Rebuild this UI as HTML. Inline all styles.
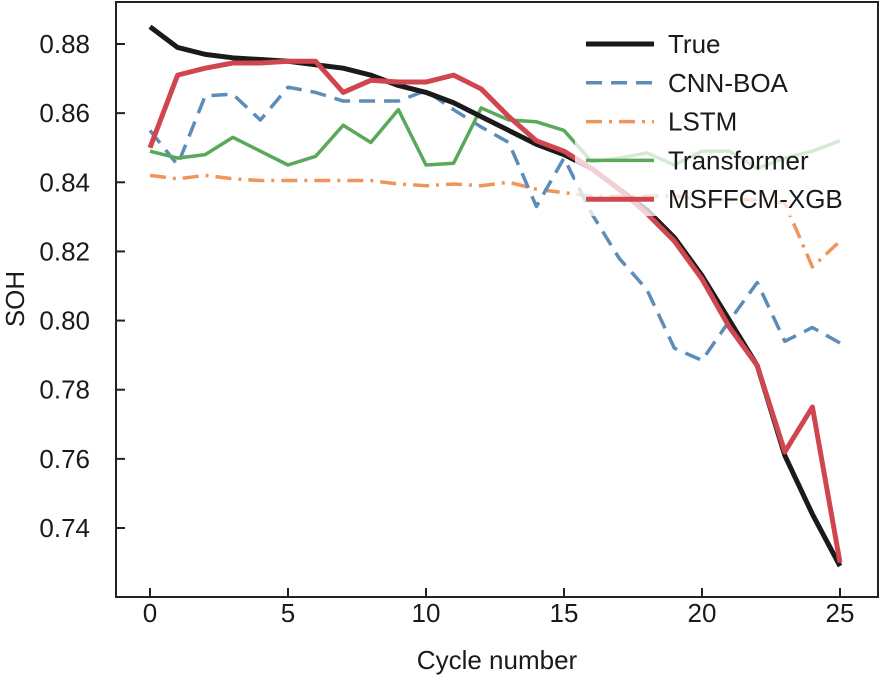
<!DOCTYPE html>
<html><head><meta charset="utf-8"><style>
html,body{margin:0;padding:0;background:#fff;}
svg text{font-family:"Liberation Sans",Arial,sans-serif;fill:#1a1a1a;}
</style></head><body>
<svg id="chart" width="880" height="677" viewBox="0 0 880 677" xmlns="http://www.w3.org/2000/svg">
<g id="plot"></g>
</svg>
<script>
const cycles=[0,1,2,3,4,5,6,7,8,9,10,11,12,13,14,15,16,17,18,19,20,21,22,23,24,25];
const trueVals=[0.885,0.879,0.877,0.876,0.8755,0.875,0.874,0.873,0.871,0.868,0.866,0.863,0.859,0.855,0.851,0.848,0.844,0.838,0.832,0.824,0.813,0.800,0.787,0.761,0.744,0.729];
const cnnVals=[0.855,0.845,0.865,0.8655,0.858,0.8675,0.866,0.8635,0.8635,0.8635,0.8665,0.861,0.856,0.8515,0.833,0.847,0.831,0.818,0.809,0.792,0.7885,0.800,0.811,0.794,0.798,0.7935];
const lstmVals=[0.842,0.841,0.842,0.841,0.8405,0.8405,0.8405,0.8405,0.8405,0.8395,0.839,0.8395,0.839,0.840,0.838,0.837,0.836,0.836,0.836,0.836,0.835,0.835,0.835,0.834,0.8155,0.823];
const transVals=[0.849,0.847,0.848,0.853,0.849,0.845,0.8475,0.8565,0.8515,0.861,0.845,0.8455,0.8615,0.858,0.8575,0.855,0.846,0.847,0.8485,0.845,0.849,0.849,0.844,0.847,0.849,0.852];
const msVals=[0.850,0.871,0.873,0.8745,0.8745,0.875,0.875,0.866,0.8695,0.869,0.869,0.871,0.867,0.859,0.852,0.849,0.844,0.838,0.831,0.823,0.812,0.798,0.787,0.762,0.775,0.730];
const yTicks=[0.74,0.76,0.78,0.80,0.82,0.84,0.86,0.88];
const xTicks=[0,5,10,15,20,25];
const legendLabels=["True","CNN-BOA","LSTM","Transformer","MSFFCM-XGB"];

const NS="http://www.w3.org/2000/svg";
const g=document.getElementById('plot');
const L=116,R=878,T=2,B=597;
const xs=v=>150+(v-0)*(840-150)/25;
const ys=v=>44+(0.88-v)*(528-44)/0.14;
function mk(tag,attrs,parent){const e=document.createElementNS(NS,tag);for(const k in attrs)e.setAttribute(k,attrs[k]);(parent||g).appendChild(e);return e;}

const series=[
 {vals:lstmVals,color:"#f0955a",w:3.5,dash:"16,7,3,7",name:"lstm-line"},
 {vals:cnnVals,color:"#5b8db8",w:3.5,dash:"16,9",name:"cnn-boa-line"},
 {vals:transVals,color:"#5aa85a",w:3.5,dash:"",name:"transformer-line"},
 {vals:trueVals,color:"#1a1a1a",w:5,dash:"",name:"true-line"},
 {vals:msVals,color:"#d0464f",w:5,dash:"",name:"msffcm-xgb-line"}
];
series.forEach(s=>{
 const p=mk('polyline',{points:s.vals.map((v,i)=>xs(cycles[i])+','+ys(v)).join(' '),fill:'none',stroke:s.color,'stroke-width':s.w,'stroke-linejoin':'round'});
 if(s.dash)p.setAttribute('stroke-dasharray',s.dash);
 
 
});

const lg=mk('g',{});


mk('rect',{x:575,y:20,width:300,height:196,fill:'#fff','fill-opacity':0.75},lg);
const lstyle=[["#1a1a1a",5,""],["#5b8db8",3.5,"16,9"],["#f0955a",3.5,"16,7,3,7"],["#5aa85a",3.5,""],["#d0464f",5,""]];
legendLabels.forEach((lab,i)=>{
 const y=44+i*38.8;
 const ln=mk('line',{x1:586,x2:654,y1:y,y2:y,stroke:lstyle[i][0],'stroke-width':lstyle[i][1]},lg);
 if(lstyle[i][2])ln.setAttribute('stroke-dasharray',lstyle[i][2]);
 
 
 const t=mk('text',{x:668,y:y+9,'font-size':26},lg);
 t.textContent=lab;
 
 
});

const fr=mk('rect',{x:L,y:T,width:R-L,height:B-T,fill:'none',stroke:'#222','stroke-width':2});


yTicks.forEach(v=>{
 const y=ys(v);
 const tk=mk('line',{x1:L,x2:L+9,y1:y,y2:y,stroke:'#222','stroke-width':2});
 
 
 const t=mk('text',{x:90,y:y+9,'font-size':26,'text-anchor':'end'});
 t.textContent=v.toFixed(2);
 
 
});
xTicks.forEach(v=>{
 const x=xs(v);
 const tk=mk('line',{x1:x,x2:x,y1:B,y2:B-9,stroke:'#222','stroke-width':2});
 
 
 const t=mk('text',{x:x,y:622,'font-size':26,'text-anchor':'middle'});
 t.textContent=v;
 
 
});
const xt=mk('text',{x:497,y:669,'font-size':26,'text-anchor':'middle'});
xt.textContent='Cycle number';


const yt=mk('text',{x:0,y:0,'font-size':26,'text-anchor':'middle',transform:'translate(24,299) rotate(-90)'});
yt.textContent='SOH';


</script>
</body></html>
